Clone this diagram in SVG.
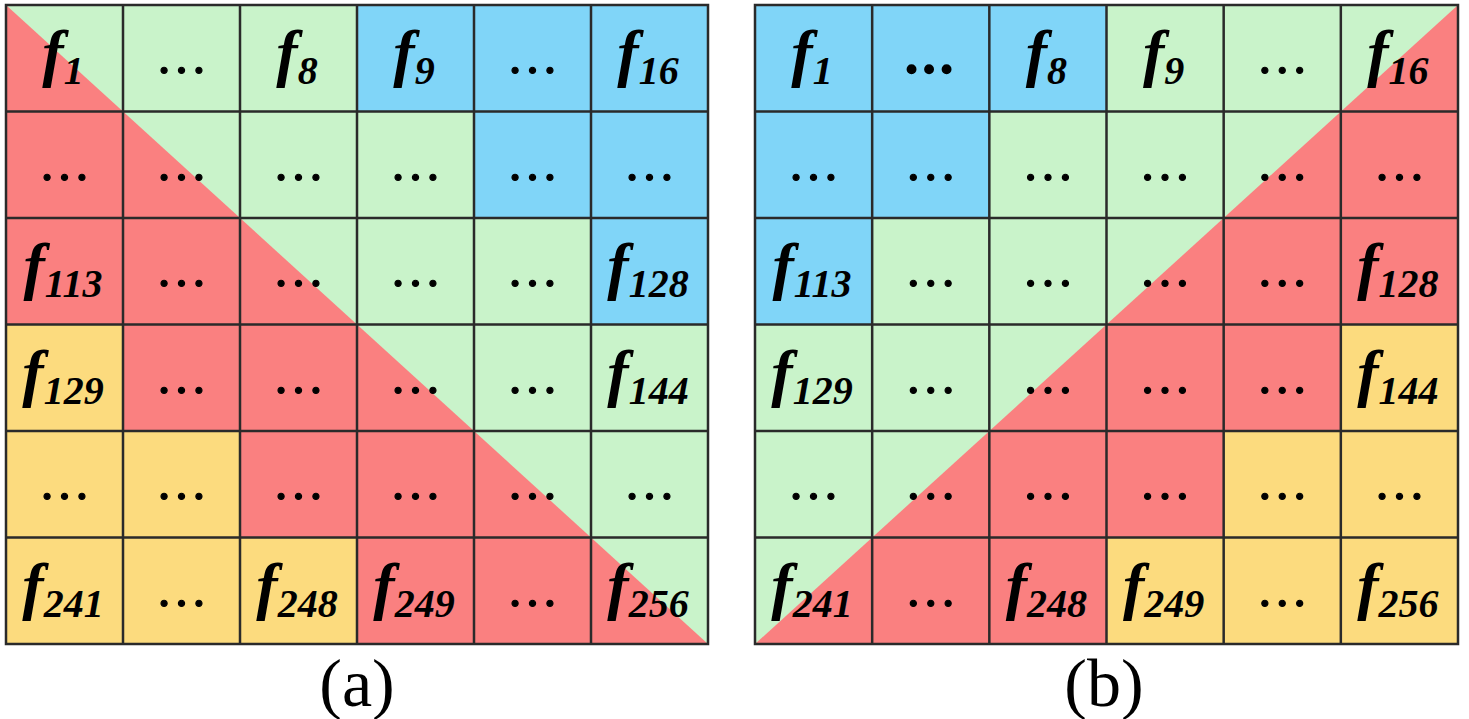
<svg xmlns="http://www.w3.org/2000/svg" width="1469" height="719" viewBox="0 0 1469 719">
<style>
.g{fill:#C9F3CA}
.r{fill:#FA8080}
.b{fill:#80D5F8}
.y{fill:#FCDB7E}
.f{font-family:"Liberation Serif","Times New Roman",serif;font-weight:bold;font-style:italic;font-size:64px;fill:#000;text-anchor:middle}
.s{font-size:40px}
.d{font-family:"Liberation Serif","Times New Roman",serif;font-size:52px;fill:#000;stroke:#000;stroke-width:1.2;text-anchor:middle}
.db{font-weight:bold;stroke-width:1.5}
.ln{fill:none;stroke:#2a2a2a;stroke-width:2.5}
.cap{font-family:"Liberation Serif","Times New Roman",serif;font-size:68px;fill:#000;text-anchor:middle}
</style>
<g id="grid-a">
<rect class="g" x="6" y="5" width="702" height="639"/>
<polygon class="r" points="6,5 6,644 708,644"/>
<g id="a-r0c0"><text class="f" x="63" y="74.25">f<tspan class="s" dy="10">1</tspan></text></g>
<g id="a-r0c1"><text class="d" x="181.5" y="73">…</text></g>
<g id="a-r0c2"><text class="f" x="297" y="74.25">f<tspan class="s" dy="10">8</tspan></text></g>
<g id="a-r0c3"><rect class="b" x="357" y="5" width="117" height="106.5"/><text class="f" x="414" y="74.25">f<tspan class="s" dy="10">9</tspan></text></g>
<g id="a-r0c4"><rect class="b" x="474" y="5" width="117" height="106.5"/><text class="d" x="532.5" y="73">…</text></g>
<g id="a-r0c5"><rect class="b" x="591" y="5" width="117" height="106.5"/><text class="f" x="648" y="74.25">f<tspan class="s" dy="10">16</tspan></text></g>
<g id="a-r1c0"><text class="d" x="64.5" y="180">…</text></g>
<g id="a-r1c1"><text class="d" x="181.5" y="180">…</text></g>
<g id="a-r1c2"><text class="d" x="298.5" y="180">…</text></g>
<g id="a-r1c3"><text class="d" x="415.5" y="180">…</text></g>
<g id="a-r1c4"><rect class="b" x="474" y="111.5" width="117" height="106.5"/><text class="d" x="532.5" y="180">…</text></g>
<g id="a-r1c5"><rect class="b" x="591" y="111.5" width="117" height="106.5"/><text class="d" x="649.5" y="180">…</text></g>
<g id="a-r2c0"><text class="f" x="63" y="287.25">f<tspan class="s" dy="10">113</tspan></text></g>
<g id="a-r2c1"><text class="d" x="181.5" y="286">…</text></g>
<g id="a-r2c2"><text class="d" x="298.5" y="286">…</text></g>
<g id="a-r2c3"><text class="d" x="415.5" y="286">…</text></g>
<g id="a-r2c4"><text class="d" x="532.5" y="286">…</text></g>
<g id="a-r2c5"><rect class="b" x="591" y="218" width="117" height="106.5"/><text class="f" x="648" y="287.25">f<tspan class="s" dy="10">128</tspan></text></g>
<g id="a-r3c0"><rect class="y" x="6" y="324.5" width="117" height="106.5"/><text class="f" x="63" y="393.75">f<tspan class="s" dy="10">129</tspan></text></g>
<g id="a-r3c1"><text class="d" x="181.5" y="393">…</text></g>
<g id="a-r3c2"><text class="d" x="298.5" y="393">…</text></g>
<g id="a-r3c3"><text class="d" x="415.5" y="393">…</text></g>
<g id="a-r3c4"><text class="d" x="532.5" y="393">…</text></g>
<g id="a-r3c5"><text class="f" x="648" y="393.75">f<tspan class="s" dy="10">144</tspan></text></g>
<g id="a-r4c0"><rect class="y" x="6" y="431" width="117" height="106.5"/><text class="d" x="64.5" y="499">…</text></g>
<g id="a-r4c1"><rect class="y" x="123" y="431" width="117" height="106.5"/><text class="d" x="181.5" y="499">…</text></g>
<g id="a-r4c2"><text class="d" x="298.5" y="499">…</text></g>
<g id="a-r4c3"><text class="d" x="415.5" y="499">…</text></g>
<g id="a-r4c4"><text class="d" x="532.5" y="499">…</text></g>
<g id="a-r4c5"><text class="d" x="649.5" y="499">…</text></g>
<g id="a-r5c0"><rect class="y" x="6" y="537.5" width="117" height="106.5"/><text class="f" x="63" y="606.75">f<tspan class="s" dy="10">241</tspan></text></g>
<g id="a-r5c1"><rect class="y" x="123" y="537.5" width="117" height="106.5"/><text class="d" x="181.5" y="606">…</text></g>
<g id="a-r5c2"><rect class="y" x="240" y="537.5" width="117" height="106.5"/><text class="f" x="297" y="606.75">f<tspan class="s" dy="10">248</tspan></text></g>
<g id="a-r5c3"><text class="f" x="414" y="606.75">f<tspan class="s" dy="10">249</tspan></text></g>
<g id="a-r5c4"><text class="d" x="532.5" y="606">…</text></g>
<g id="a-r5c5"><text class="f" x="648" y="606.75">f<tspan class="s" dy="10">256</tspan></text></g>
</g>
<g id="grid-b">
<rect class="g" x="755" y="5" width="703" height="639"/>
<polygon class="r" points="1458,5 1458,644 755,644"/>
<g id="b-r0c0"><rect class="b" x="755" y="5" width="117.17" height="106.5"/><text class="f" x="812" y="74.25">f<tspan class="s" dy="10">1</tspan></text></g>
<g id="b-r0c1"><rect class="b" x="872.17" y="5" width="117.17" height="106.5"/><text class="d db" x="929" y="73">…</text></g>
<g id="b-r0c2"><rect class="b" x="989.33" y="5" width="117.17" height="106.5"/><text class="f" x="1046.4" y="74.25">f<tspan class="s" dy="10">8</tspan></text></g>
<g id="b-r0c3"><text class="f" x="1163.6" y="74.25">f<tspan class="s" dy="10">9</tspan></text></g>
<g id="b-r0c4"><text class="d" x="1282.25" y="73">…</text></g>
<g id="b-r0c5"><text class="f" x="1397.9" y="74.25">f<tspan class="s" dy="10">16</tspan></text></g>
<g id="b-r1c0"><rect class="b" x="755" y="111.5" width="117.17" height="106.5"/><text class="d" x="813.6" y="180">…</text></g>
<g id="b-r1c1"><rect class="b" x="872.17" y="111.5" width="117.17" height="106.5"/><text class="d" x="930.75" y="180">…</text></g>
<g id="b-r1c2"><text class="d" x="1047.9" y="180">…</text></g>
<g id="b-r1c3"><text class="d" x="1165.1" y="180">…</text></g>
<g id="b-r1c4"><text class="d" x="1282.25" y="180">…</text></g>
<g id="b-r1c5"><text class="d" x="1399.4" y="180">…</text></g>
<g id="b-r2c0"><rect class="b" x="755" y="218" width="117.17" height="106.5"/><text class="f" x="812" y="287.25">f<tspan class="s" dy="10">113</tspan></text></g>
<g id="b-r2c1"><text class="d" x="930.75" y="286">…</text></g>
<g id="b-r2c2"><text class="d" x="1047.9" y="286">…</text></g>
<g id="b-r2c3"><text class="d" x="1165.1" y="286">…</text></g>
<g id="b-r2c4"><text class="d" x="1282.25" y="286">…</text></g>
<g id="b-r2c5"><text class="f" x="1397.9" y="287.25">f<tspan class="s" dy="10">128</tspan></text></g>
<g id="b-r3c0"><text class="f" x="812" y="393.75">f<tspan class="s" dy="10">129</tspan></text></g>
<g id="b-r3c1"><text class="d" x="930.75" y="393">…</text></g>
<g id="b-r3c2"><text class="d" x="1047.9" y="393">…</text></g>
<g id="b-r3c3"><text class="d" x="1165.1" y="393">…</text></g>
<g id="b-r3c4"><text class="d" x="1282.25" y="393">…</text></g>
<g id="b-r3c5"><rect class="y" x="1340.83" y="324.5" width="117.17" height="106.5"/><text class="f" x="1397.9" y="393.75">f<tspan class="s" dy="10">144</tspan></text></g>
<g id="b-r4c0"><text class="d" x="813.6" y="499">…</text></g>
<g id="b-r4c1"><text class="d" x="930.75" y="499">…</text></g>
<g id="b-r4c2"><text class="d" x="1047.9" y="499">…</text></g>
<g id="b-r4c3"><text class="d" x="1165.1" y="499">…</text></g>
<g id="b-r4c4"><rect class="y" x="1223.67" y="431" width="117.17" height="106.5"/><text class="d" x="1282.25" y="499">…</text></g>
<g id="b-r4c5"><rect class="y" x="1340.83" y="431" width="117.17" height="106.5"/><text class="d" x="1399.4" y="499">…</text></g>
<g id="b-r5c0"><text class="f" x="812" y="606.75">f<tspan class="s" dy="10">241</tspan></text></g>
<g id="b-r5c1"><text class="d" x="930.75" y="606">…</text></g>
<g id="b-r5c2"><text class="f" x="1046.4" y="606.75">f<tspan class="s" dy="10">248</tspan></text></g>
<g id="b-r5c3"><rect class="y" x="1106.5" y="537.5" width="117.17" height="106.5"/><text class="f" x="1163.6" y="606.75">f<tspan class="s" dy="10">249</tspan></text></g>
<g id="b-r5c4"><rect class="y" x="1223.67" y="537.5" width="117.17" height="106.5"/><text class="d" x="1282.25" y="606">…</text></g>
<g id="b-r5c5"><rect class="y" x="1340.83" y="537.5" width="117.17" height="106.5"/><text class="f" x="1397.9" y="606.75">f<tspan class="s" dy="10">256</tspan></text></g>
</g>
<g id="gridlines">
<path class="ln" d="M6,5H708V644H6Z M123,5V644 M240,5V644 M357,5V644 M474,5V644 M591,5V644 M6,111.5H708 M6,218H708 M6,324.5H708 M6,431H708 M6,537.5H708"/>
<path class="ln" d="M755,5H1458V644H755Z M872.17,5V644 M989.33,5V644 M1106.5,5V644 M1223.67,5V644 M1340.83,5V644 M755,111.5H1458 M755,218H1458 M755,324.5H1458 M755,431H1458 M755,537.5H1458"/>
</g>
<g id="captions">
<text class="cap" x="357" y="706">(a)</text>
<text class="cap" x="1104" y="706">(b)</text>
</g>
</svg>
